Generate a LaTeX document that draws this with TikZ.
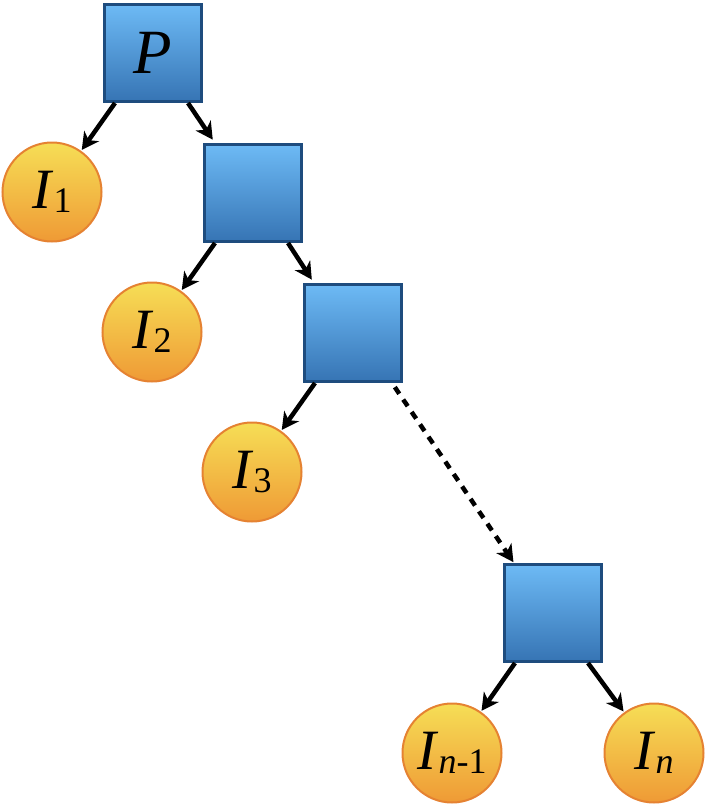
\documentclass[tikz,border=0pt]{standalone}
\usepackage{fontspec}
\setmainfont{Liberation Serif}
\usetikzlibrary{arrows.meta}

\definecolor{boxtop}{HTML}{6DBAF5}
\definecolor{boxbot}{HTML}{3674B4}
\definecolor{boxline}{HTML}{1E4C7E}
\definecolor{leaftop}{HTML}{F6DE56}
\definecolor{leafbot}{HTML}{EF9A35}
\definecolor{leafline}{HTML}{E58232}

\newcommand{\Isub}[1]{\textit{I}\raisebox{-0.06em}{\fontsize{36}{36}\selectfont #1}}

\begin{document}
\begin{tikzpicture}[x=1pt,y=-1pt,
    blk/.style={draw=boxline, line width=3pt, top color=boxtop, bottom color=boxbot,
        minimum size=97pt, inner sep=0pt, font=\fontsize{63}{63}\selectfont\itshape},
    leaf/.style={circle, draw=leafline, line width=2pt, top color=leaftop, bottom color=leafbot,
        minimum size=99pt, inner sep=0pt, font=\fontsize{57}{57}\selectfont},
    arr/.style={-{Stealth[length=17pt,width=18pt,inset=5pt]}, line width=4.5pt}]
\useasboundingbox (0,0) rectangle (706,806);

% boxes
\node[blk] (P) at (153,53) {P};
\node[blk] (b2) at (253,193) {};
\node[blk] (b3) at (353,333) {};
\node[blk] (b4) at (553,613) {};

% leaves
\node[leaf] (i1) at (52,192) {\Isub{1}};
\node[leaf] (i2) at (152,332) {\Isub{2}};
\node[leaf] (i3) at (252,472) {\Isub{3}};
\node[leaf] (inm) at (452,753) {\Isub{\textit{n}-1}};
\node[leaf] (in) at (654,753) {\Isub{\textit{n}}};

% arrows
\draw[arr, shorten >=1pt] ([xshift=12pt]P.south west) -- (i1);
\draw[arr, shorten >=4pt] ([xshift=-15pt]P.south east) -- ([xshift=12pt]b2.north west);
\draw[arr, shorten >=1pt] ([xshift=12pt]b2.south west) -- (i2);
\draw[arr, shorten >=4pt] ([xshift=-15pt]b2.south east) -- ([xshift=11pt]b3.north west);
\draw[arr, shorten >=1pt] ([xshift=12pt]b3.south west) -- (i3);
\draw[arr, dash pattern=on 8pt off 7pt, shorten <=5pt, shorten >=1pt]
    ([xshift=-11pt]b3.south east) -- ([xshift=11pt]b4.north west);
\draw[arr, shorten >=1pt] ([xshift=12pt]b4.south west) -- (inm);
\draw[arr, shorten >=1pt] ([xshift=-15pt]b4.south east) -- (in);
\end{tikzpicture}
\end{document}
